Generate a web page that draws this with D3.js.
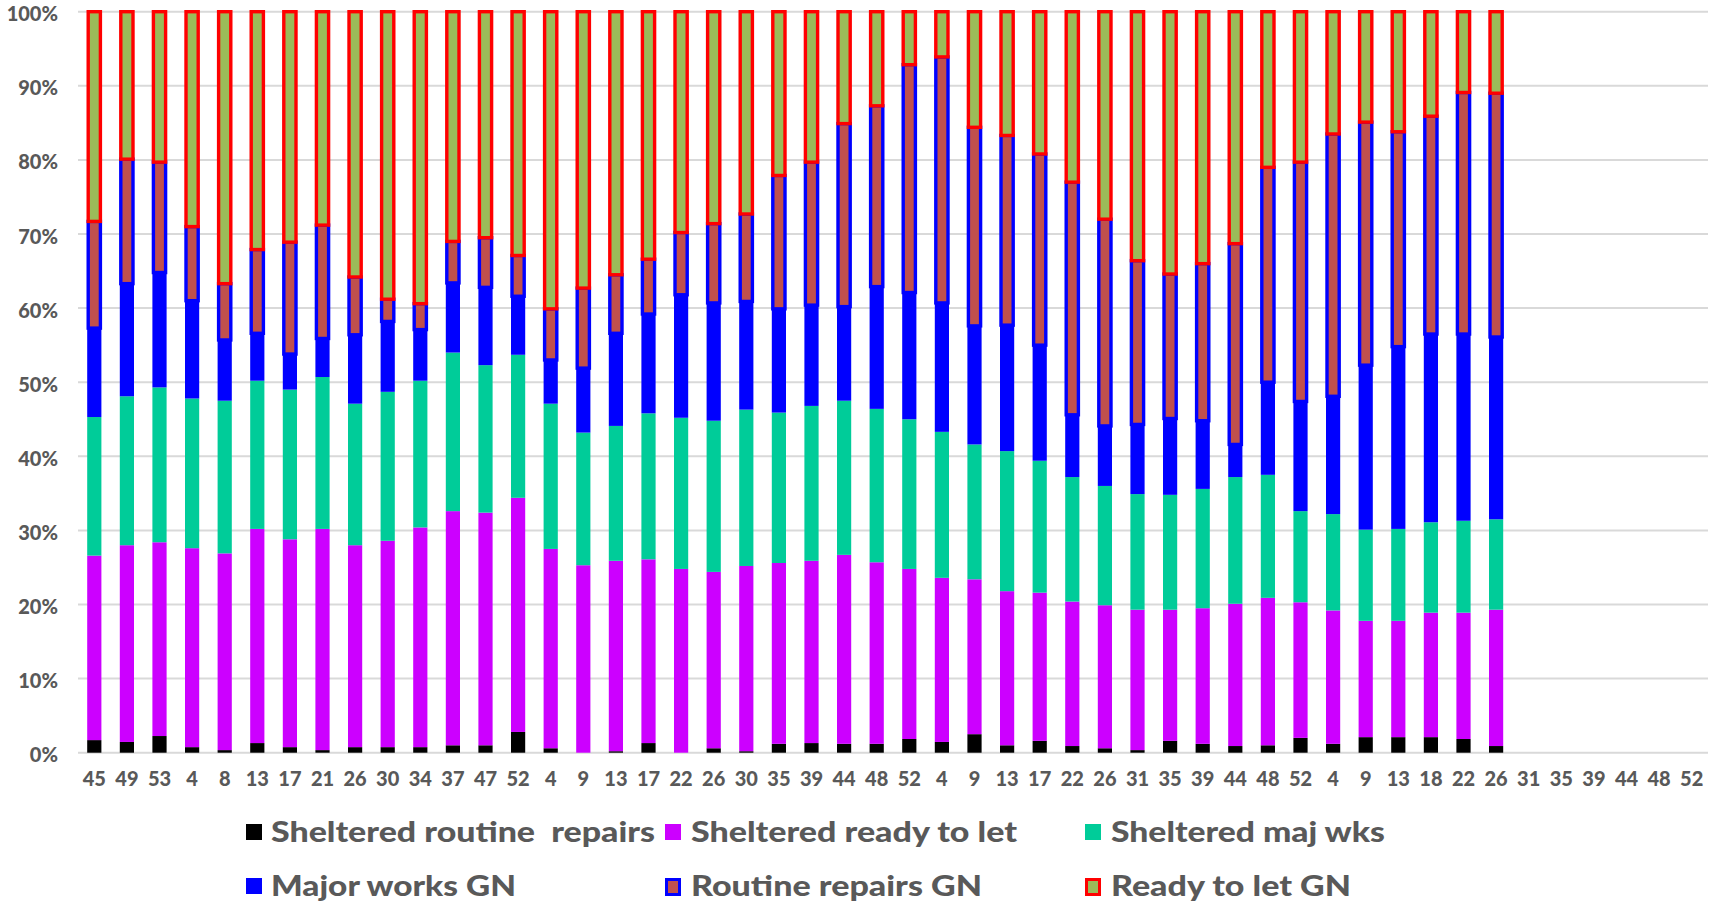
<!DOCTYPE html>
<html><head><meta charset="utf-8">
<script src="https://cdn.jsdelivr.net/npm/d3@7"></script>
<style>
html,body{margin:0;padding:0;background:#fff;}
svg{display:block;font-family:Lato,"Open Sans",sans-serif;}
</style></head><body>
<svg id="chart" width="1713" height="905"></svg>
<script>
// ---- data ----
const weeks = ["45","49","53","4","8","13","17","21","26","30","34","37","47","52","4","9","13","17","22","26","30","35","39","44","48","52","4","9","13","17","22","26","31","35","39","44","48","52","4","9","13","18","22","26","31","35","39","44","48","52"];

const shelteredRoutineRepairs = [1.7,1.45,2.25,0.75,0.35,1.3,0.75,0.35,0.75,0.75,0.75,1.0,1.0,2.8,0.6,0,0.2,1.3,0,0.6,0.2,1.2,1.3,1.2,1.2,1.85,1.45,2.5,1.0,1.6,0.9,0.6,0.35,1.6,1.2,0.9,1.0,2.0,1.2,2.1,2.1,2.1,1.85,0.9];
const shelteredReadyToLet = [24.9,26.55,26.15,26.85,26.55,28.9,28.05,29.85,27.25,27.85,29.65,31.6,31.4,31.6,26.9,25.3,25.7,24.8,24.8,23.8,25.0,24.4,24.6,25.5,24.5,22.95,22.15,20.9,20.8,20.0,19.5,19.3,18.95,17.7,18.3,19.2,19.9,18.3,18.0,15.7,15.7,16.8,17.05,18.4];
const shelteredMajWks = [18.7,20.1,20.9,20.2,20.6,20.0,20.2,20.5,19.1,20.1,19.8,21.4,19.9,19.3,19.6,17.9,18.2,19.7,20.4,20.4,21.1,20.3,20.9,20.8,20.7,20.2,19.7,18.2,18.9,17.8,16.8,16.1,15.6,15.5,16.1,17.1,16.6,12.3,13.0,12.3,12.4,12.2,12.4,12.2];
const majorWorksGN = [12.0,15.2,15.5,13.2,8.2,6.4,4.8,5.2,9.3,9.5,6.9,9.4,10.5,7.9,5.9,8.7,12.5,13.4,16.6,15.9,14.6,14.0,13.6,12.7,16.5,17.1,17.4,16.0,17.0,15.6,8.4,8.1,9.4,10.3,9.2,4.4,12.5,14.8,15.9,22.2,24.6,25.4,25.2,24.6];
const routineRepairsGN = [14.4,16.8,14.9,10.0,7.6,11.3,15.1,15.3,7.8,3.0,3.5,5.6,6.7,5.5,6.9,10.8,7.9,7.4,8.4,10.7,11.8,18.0,19.3,24.7,24.4,30.75,33.2,26.8,25.6,25.8,31.4,27.9,22.1,19.5,21.2,27.1,29.0,32.3,35.4,32.8,29.0,29.4,32.6,32.9];
const readyToLetGN = [28.3,19.9,20.3,29.0,36.7,32.1,31.1,28.8,35.8,38.8,39.4,31.0,30.5,32.9,40.1,37.3,35.5,33.4,29.8,28.6,27.3,22.1,20.3,15.1,12.7,7.15,6.1,15.6,16.7,19.2,23.0,28.0,33.6,35.4,34.0,31.3,21.0,20.3,16.5,14.9,16.2,14.1,10.9,11.0];

const seriesNames = ["Sheltered routine  repairs","Sheltered ready to let","Sheltered maj wks","Major works GN","Routine repairs GN","Ready to let GN"];
const seriesValues = [shelteredRoutineRepairs, shelteredReadyToLet, shelteredMajWks, majorWorksGN, routineRepairsGN, readyToLetGN];
const yTickValues = [0,0.1,0.2,0.3,0.4,0.5,0.6,0.7,0.8,0.9,1.0];

// ---- styles ----
const fills   = ["#000000","#CC00FF","#00CC99","#0000FF","#C0504D","#9BBB59"];
const strokes = [null,null,null,null,"#0000FF","#FF0000"];
const textColor = "#595959";

// ---- build table ----
const keys = seriesNames;
const rows = shelteredRoutineRepairs.map((_, i) => {
  const r = {idx: i};
  keys.forEach((k, s) => r[k] = seriesValues[s][i]);
  return r;
});
const stacked = d3.stack().keys(keys).offset(d3.stackOffsetExpand)(rows);

// ---- layout ----
const L = 78, R = 1708, T = 11.7, B = 752.7;
const svg = d3.select("#chart");

const x = d3.scaleBand().domain(d3.range(weeks.length)).range([L, R])
  .paddingInner(0.5644).paddingOuter(0.2822);
const y = d3.scaleLinear().domain([0, 1]).range([B, T]);

// gridlines
svg.append("g")
  .selectAll("line").data(yTickValues).join("line")
  .attr("x1", L).attr("x2", R)
  .attr("y1", d => y(d)).attr("y2", d => y(d))
  .attr("stroke", "#D9D9D9").attr("stroke-width", 2);

// bars
const bw = x.bandwidth();
const sw = 3.4;
const outerW = bw + 1.4;
const gBars = svg.append("g");
stacked.forEach((layer, s) => {
  const g = gBars.append("g").attr("fill", fills[s]);
  const stroked = !!strokes[s];
  if (stroked) g.attr("stroke", strokes[s]).attr("stroke-width", sw);
  const w = stroked ? outerW - sw : bw;
  g.selectAll("rect").data(layer).join("rect")
    .attr("x", d => x(d.data.idx) + (bw - w) / 2)
    .attr("width", w)
    .attr("y", d => y(d[1]))
    .attr("height", d => Math.max(0, y(d[0]) - y(d[1])));
});

// y axis labels
const yAxis = svg.append("g").attr("transform", `translate(${L},0)`)
  .call(d3.axisLeft(y).tickValues(yTickValues).tickFormat(d3.format(".0%")).tickSize(0).tickPadding(20));
yAxis.select(".domain").remove();
yAxis.selectAll("text").attr("fill", textColor).attr("dy", "0.45em")
  .style("font-size", "20px").style("font-weight", "900").style("font-family", "Lato");

// x axis labels
const xAxis = svg.append("g").attr("transform", `translate(0,${B})`)
  .call(d3.axisBottom(x).tickFormat(i => weeks[i]).tickSize(0).tickPadding(19));
xAxis.select(".domain").remove();
xAxis.selectAll("text").attr("fill", textColor)
  .style("font-size", "20px").style("font-weight", "900").style("font-family", "Lato");

// legend
const legendLayout = [
  {mx: 246, tx: 271, cy: 832, w: 384}, {mx: 665, tx: 691, cy: 832, w: 326}, {mx: 1085, tx: 1111, cy: 832, w: 274},
  {mx: 246, tx: 271, cy: 886, w: 245}, {mx: 665, tx: 691, cy: 886, w: 291}, {mx: 1085, tx: 1111, cy: 886, w: 240}
];
const lg = svg.append("g");
keys.forEach((k, s) => {
  const p = legendLayout[s];
  if (strokes[s]) {
    lg.append("rect").attr("x", p.mx + 1.5).attr("y", p.cy - 6.5).attr("width", 13).attr("height", 15)
      .attr("fill", fills[s]).attr("stroke", strokes[s]).attr("stroke-width", 3);
  } else {
    lg.append("rect").attr("x", p.mx).attr("y", p.cy - 8).attr("width", 16).attr("height", 16)
      .attr("fill", fills[s]);
  }
  lg.append("text").attr("x", p.tx).attr("y", p.cy).attr("dy", "0.36em")
    .attr("xml:space", "preserve").style("white-space", "pre")
    .attr("textLength", p.w).attr("lengthAdjust", "spacingAndGlyphs")
    .attr("fill", textColor).style("font-size", "28px").style("font-weight", "900")
    .style("font-family", "Lato")
    .text(k);
});
</script>
</body></html>
